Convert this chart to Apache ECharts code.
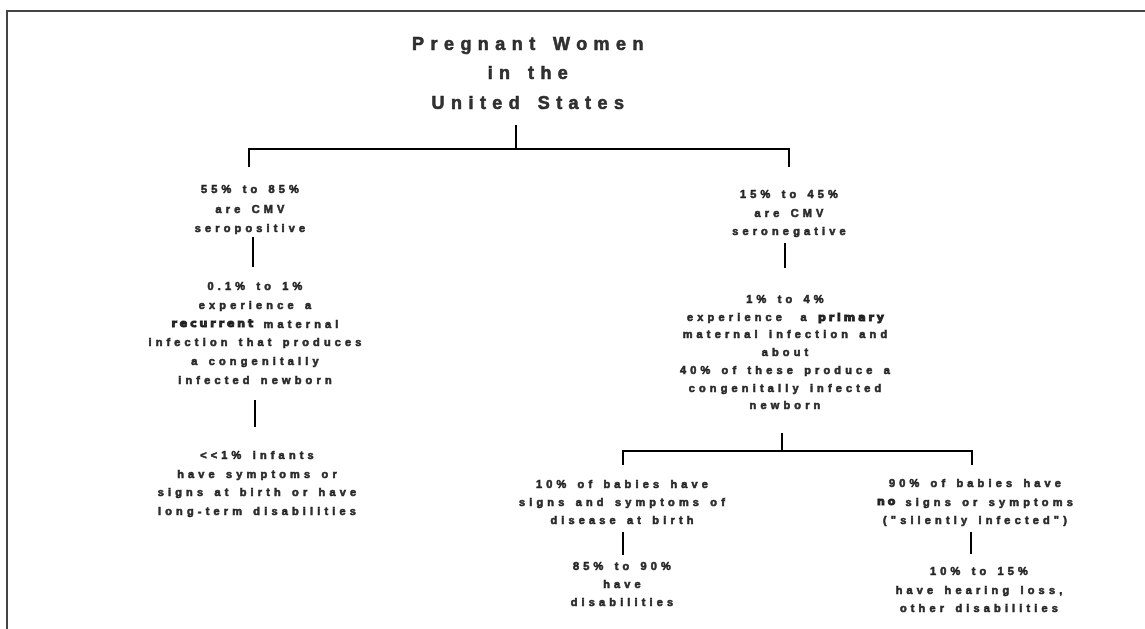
<!DOCTYPE html>
<html style="height: 100%">
<head>
    <meta charset="utf-8">
    <title>CMV pregnant women tree</title>
    <script src="https://cdn.jsdelivr.net/npm/echarts@6/dist/echarts.min.js"></script>
</head>
<body style="height: 100%; margin: 0; background: #fff">
    <div id="main" style="width: 1145px; height: 629px"></div>
    <script type="text/javascript">
        // text of every box, one entry per line ({b|..} = heavy word)
        var titleLines   = ['Pregnant Women', 'in the', 'United States'];
        var seropositive = ['55% to 85%', 'are CMV', 'seropositive'];
        var recurrent    = ['0.1% to 1%', 'experience a', '{b|recurrent} maternal', 'infection that produces', 'a congenitally', 'infected newborn'];
        var infants      = ['<<1% infants', 'have symptoms or', 'signs at birth or have', 'long-term disabilities'];
        var seronegative = ['15% to 45%', 'are CMV', 'seronegative'];
        var primary      = ['1% to 4%', 'experience  a {b|primary}', 'maternal infection and', 'about', '40% of these produce a', 'congenitally infected', 'newborn'];
        var symptomatic  = ['10% of babies have', 'signs and symptoms of', 'disease at birth'];
        var disabled     = ['85% to 90%', 'have', 'disabilities'];
        var silent       = ['90% of babies have', '{b|no} signs or symptoms', '("silently infected")'];
        var hearing      = ['10% to 15%', 'have hearing loss,', 'other disabilities'];

        // tree: parent -> children
        var links = [
            ['title', ['seropositive', 'seronegative']],
            ['seropositive', ['recurrent']],
            ['recurrent', ['infants']],
            ['seronegative', ['primary']],
            ['primary', ['symptomatic', 'silent']],
            ['symptomatic', ['disabled']],
            ['silent', ['hearing']]
        ];

        var texts = {
            title: titleLines, seropositive: seropositive, recurrent: recurrent, infants: infants,
            seronegative: seronegative, primary: primary, symptomatic: symptomatic,
            disabled: disabled, silent: silent, hearing: hearing
        };

        // layout (page units): x centre, y of first line, line height
        var layout = {
            title:        { x: 531, y: 45,  lh: 29.5, size: 18 },
            seropositive: { x: 252, y: 190, lh: 19.5 },
            recurrent:    { x: 257, y: 287, lh: 18.8 },
            infants:      { x: 259, y: 456, lh: 18.7 },
            seronegative: { x: 791, y: 195, lh: 18.5 },
            primary:      { x: 787, y: 300, lh: 17.7 },
            symptomatic:  { x: 624, y: 485, lh: 18 },
            disabled:     { x: 624, y: 567, lh: 18 },
            silent:       { x: 977, y: 484, lh: 18.5 },
            hearing:      { x: 981, y: 572, lh: 18.5 }
        };

        // connector geometry: stem x, stem top, elbow y, child top, child x's
        var connectors = {
            title:        { x: 516, y0: 125, ym: 149, y1: 167, xs: [249, 789] },
            seropositive: { x: 253, y0: 237, y1: 267 },
            recurrent:    { x: 255, y0: 400, y1: 427 },
            seronegative: { x: 785, y0: 243, y1: 268 },
            primary:      { x: 782, y0: 433, ym: 451, y1: 465, xs: [623, 972] },
            symptomatic:  { x: 623, y0: 532, y1: 555 },
            silent:       { x: 971, y0: 532, y1: 554 }
        };

        var FONT = "'Liberation Sans Narrow', 'Liberation Sans', Arial, sans-serif";
        var HEAVY = "'DejaVu Sans'";

        // letter spacing calibrated so a few lines get the widths of the original slide
        var mctx = document.createElement('canvas').getContext('2d');
        function calib(font, pairs) {
            mctx.font = font;
            mctx.letterSpacing = '0px';
            var nat = 0, tgt = 0, gaps = 0;
            pairs.forEach(function (p) {
                nat += mctx.measureText(p[0]).width;
                tgt += p[1];
                gaps += p[0].length - 1;
            });
            return Math.max(0, (tgt - nat) / gaps);
        }
        var spTitle = calib('bold 18px ' + FONT, [['Pregnant Women', 233], ['United States', 192], ['in the', 79]]);
        var spBody = calib('bold 11px ' + FONT, [['10% of babies have', 168], ['signs and symptoms of', 199],
            ['infection that produces', 223], ['55% to 85%', 101], ['40% of these produce a', 208]]);
        var spHeavy = calib('bold 11px ' + HEAVY, [['primary', 67], ['recurrent', 81]]);

        function spacingFor(font) {
            if (/DejaVu/.test(font)) return spHeavy;
            var m = /(\d+(?:\.\d+)?)px/.exec(font || '');
            var size = m ? parseFloat(m[1]) : 12;
            return size >= 16 ? spTitle : spBody;
        }
        echarts.setPlatformAPI({
            measureText: function (text, font) {
                mctx.font = font || '12px sans-serif';
                mctx.letterSpacing = spacingFor(mctx.font) + 'px';
                return mctx.measureText(text);
            }
        });
        ['fillText', 'strokeText'].forEach(function (fn) {
            var orig = CanvasRenderingContext2D.prototype[fn];
            CanvasRenderingContext2D.prototype[fn] = function (t, x, y, w) {
                this.letterSpacing = spacingFor(this.font) + 'px';
                return w === undefined ? orig.call(this, t, x, y) : orig.call(this, t, x, y, w);
            };
        });

        var boxData = Object.keys(texts).map(function (id) {
            var l = layout[id], lines = texts[id];
            return {
                name: id,
                value: [l.x, l.y + (lines.length - 1) * l.lh / 2],
                label: {
                    formatter: lines.join('\n'),
                    fontSize: l.size || 11,
                    lineHeight: l.lh
                }
            };
        });

        var lineData = [];
        links.forEach(function (lk) {
            var c = connectors[lk[0]];
            if (c.xs) {
                lineData.push({ coords: [[c.x, c.y0], [c.x, c.ym]] });
                lineData.push({ coords: [[c.xs[0], c.y1], [c.xs[0], c.ym], [c.xs[1], c.ym], [c.xs[1], c.y1]] });
            } else {
                lineData.push({ coords: [[c.x, c.y0], [c.x, c.y1]] });
            }
        });

        var myChart = echarts.init(document.getElementById('main'));
        var option = {
            animation: false,
            grid: { left: 0, right: 0, top: 0, bottom: 0 },
            xAxis: { type: 'value', min: 0, max: 1145, show: false },
            yAxis: { type: 'value', min: 0, max: 629, inverse: true, show: false },
            series: [
                {
                    // slide frame
                    type: 'lines',
                    coordinateSystem: 'cartesian2d',
                    polyline: true,
                    silent: true,
                    lineStyle: { color: '#444', width: 2, opacity: 1 },
                    data: [{ coords: [[7, 629], [7, 11], [1145, 11]] }]
                },
                {
                    type: 'lines',
                    coordinateSystem: 'cartesian2d',
                    polyline: true,
                    silent: true,
                    lineStyle: { color: '#000', width: 2, opacity: 1 },
                    data: lineData
                },
                {
                    type: 'scatter',
                    symbolSize: 0,
                    silent: true,
                    itemStyle: { color: 'transparent' },
                    label: {
                        show: true,
                        position: 'inside',
                        align: 'center',
                        verticalAlign: 'middle',
                        color: '#000',
                        fontFamily: FONT,
                        fontWeight: 'bold',
                        textBorderColor: '#000',
                        textBorderWidth: 0.6,
                        rich: {
                            b: {
                                fontFamily: HEAVY, fontWeight: 'bold', fontSize: 11, color: '#000',
                                textBorderColor: '#000', textBorderWidth: 1
                            }
                        }
                    },
                    data: boxData
                }
            ]
        };
        myChart.setOption(option);
    </script>
</body>
</html>
